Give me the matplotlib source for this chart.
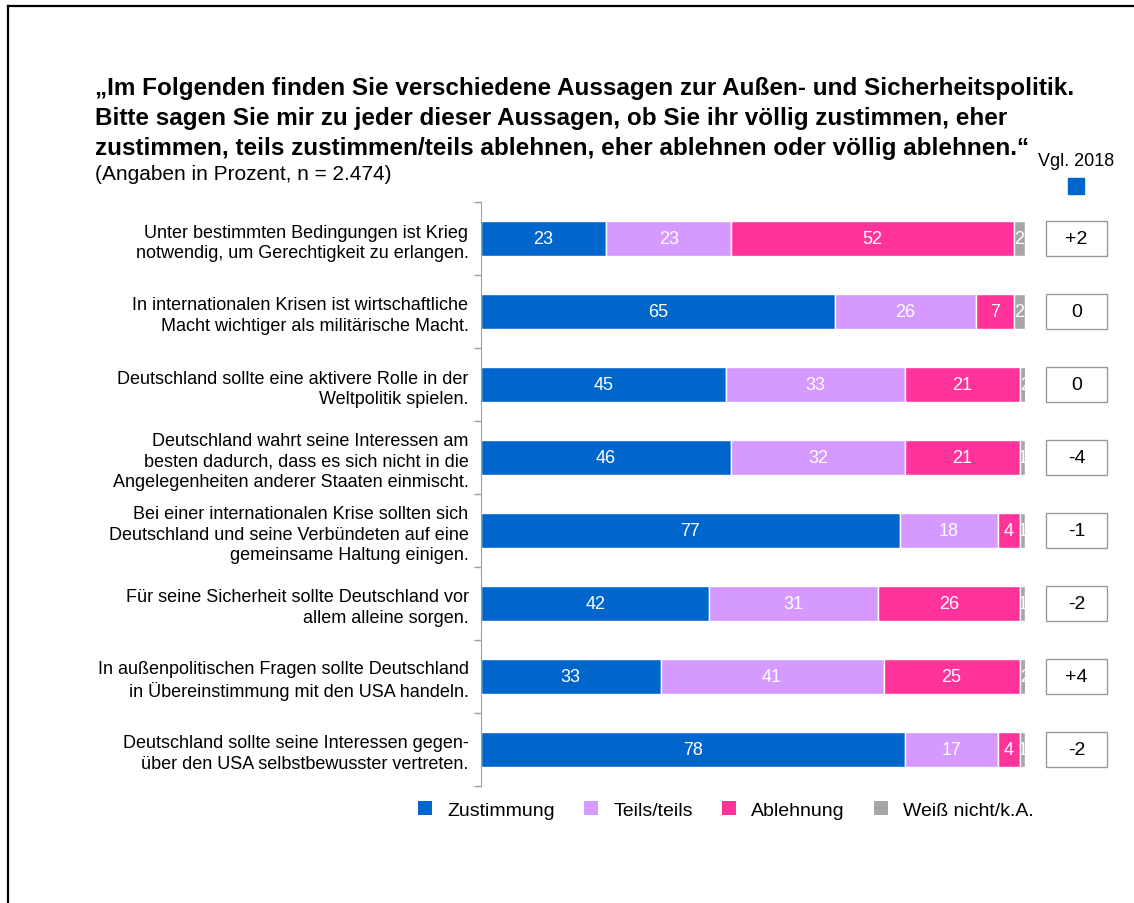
import matplotlib
matplotlib.use('Agg')
import matplotlib.pyplot as plt
from matplotlib.patches import Rectangle, Patch
from matplotlib.lines import Line2D

plt.rcParams['font.family'] = ['Liberation Sans', 'DejaVu Sans']

statements = [
    'Unter bestimmten Bedingungen ist Krieg\nnotwendig, um Gerechtigkeit zu erlangen.',
    'In internationalen Krisen ist wirtschaftliche\nMacht wichtiger als militärische Macht.',
    'Deutschland sollte eine aktivere Rolle in der\nWeltpolitik spielen.',
    'Deutschland wahrt seine Interessen am\nbesten dadurch, dass es sich nicht in die\nAngelegenheiten anderer Staaten einmischt.',
    'Bei einer internationalen Krise sollten sich\nDeutschland und seine Verbündeten auf eine\ngemeinsame Haltung einigen.',
    'Für seine Sicherheit sollte Deutschland vor\nallem alleine sorgen.',
    'In außenpolitischen Fragen sollte Deutschland\nin Übereinstimmung mit den USA handeln.',
    'Deutschland sollte seine Interessen gegen-\nüber den USA selbstbewusster vertreten.',
]
zustimmung = [23, 65, 45, 46, 77, 42, 33, 78]
teils_teils = [23, 26, 33, 32, 18, 31, 41, 17]
ablehnung = [52, 7, 21, 21, 4, 26, 25, 4]
weiss_nicht = [2, 2, 2, 1, 1, 1, 2, 1]
vgl_2018 = ['+2', '0', '0', '-4', '-1', '-2', '+4', '-2']

title_lines = ['„Im Folgenden finden Sie verschiedene Aussagen zur Außen- und Sicherheitspolitik.',
               'Bitte sagen Sie mir zu jeder dieser Aussagen, ob Sie ihr völlig zustimmen, eher',
               'zustimmen, teils zustimmen/teils ablehnen, eher ablehnen oder völlig ablehnen.“']

series = [('Zustimmung', zustimmung, '#0066CC'),
          ('Teils/teils', teils_teils, '#D699FF'),
          ('Ablehnung', ablehnung, '#FF3399'),
          ('Weiß nicht/k.A.', weiss_nicht, '#A6A6A6')]

fig = plt.figure(figsize=(11.34, 9.04), dpi=100)
ax = fig.add_axes([481/1134, 1-787/904, 544/1134, 584/904])

y = list(range(len(statements)))
left = [0]*len(y)
for name, vals, col in series:
    bars = ax.barh(y, vals, left=left, height=0.48, color=col, edgecolor='white',
                   linewidth=1, label=name)
    for b, v in zip(bars, vals):
        ax.text(b.get_x() + b.get_width()/2, b.get_y() + b.get_height()/2, str(v),
                ha='center', va='center', color='white', fontsize=13)
    left = [l + v for l, v in zip(left, vals)]

# Vergleich 2018 boxes
for i, v in enumerate(vgl_2018):
    ax.add_patch(Rectangle((103.9, i - 0.24), 11.2, 0.48, facecolor='white',
                           edgecolor='#999999', linewidth=1, clip_on=False))
    ax.text(109.5, i, v, ha='center', va='center', fontsize=14)

ax.set_xlim(0, 100)
ax.set_ylim(7.5, -0.5)
ax.set_yticks(y)
ax.set_yticklabels(statements, fontsize=13, linespacing=1.25)
ax.set_yticks([i - 0.5 for i in range(len(y) + 1)], minor=True)
ax.tick_params(axis='y', which='major', length=0, pad=9)
ax.tick_params(axis='y', which='minor', length=5, color='#A0A0A0', width=1)
ax.set_xticks([])
for s in ['top', 'right', 'bottom']:
    ax.spines[s].set_visible(False)
ax.spines['left'].set_color('#A0A0A0')

for k, line in enumerate(title_lines):
    fig.text(95/1134, 1-(88 + 30*k)/904, line, fontsize=17.5, fontweight='bold',
             va='center', ha='left')
fig.text(95/1134, 1-175/904, '(Angaben in Prozent, n = 2.474)', fontsize=15,
         va='center', ha='left')

fig.text(1076/1134, 1-161/904, 'Vgl. 2018', fontsize=13, ha='center', va='center')
fig.add_artist(Rectangle((1068/1134, 1-195/904), 16/1134, 16/904, color='#0066CC',
                         transform=fig.transFigure))

handles = [Patch(facecolor=c, label=n) for n, _, c in series]
fig.legend(handles=handles, ncol=4, loc='center', bbox_to_anchor=(726/1134, 1-811/904),
           frameon=False, fontsize=14, handlelength=0.7, handleheight=0.7,
           handletextpad=0.8, columnspacing=1.5)

# frame lines
fig.add_artist(Line2D([8/1134, 1], [1-7/904, 1-7/904], color='black', linewidth=1.6,
                      transform=fig.transFigure))
fig.add_artist(Line2D([8/1134, 8/1134], [0, 1-7/904], color='black', linewidth=1.6,
                      transform=fig.transFigure))

fig.savefig('out.png', dpi=100, facecolor='white')
